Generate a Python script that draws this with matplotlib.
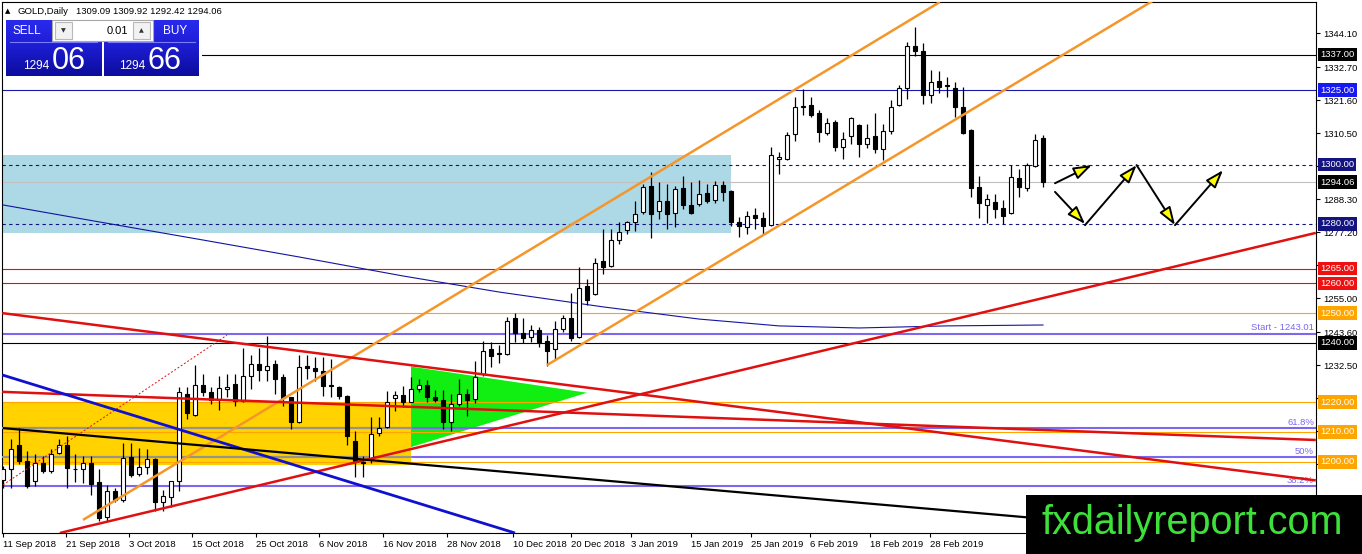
import numpy as np
import matplotlib
matplotlib.use('Agg')
import matplotlib.pyplot as plt
from matplotlib.patches import Rectangle, Polygon
from matplotlib.colors import LinearSegmentedColormap

plt.rcParams['font.family'] = ['Liberation Sans', 'DejaVu Sans']

# GOLD daily bars, bar 0 = 11 Sep 2018, last bar = 1 Mar 2019
opens = [1194.0, 1197.4, 1205.6, 1200.2, 1193.4, 1199.6, 1196.8, 1202.8, 1205.5, 1197.7,
         1197.6, 1199.6, 1193.1, 1181.3, 1190.3, 1187.0, 1201.6, 1195.7, 1198.3, 1201.0,
         1186.3, 1188.1, 1193.4, 1222.8, 1215.7, 1225.9, 1223.6, 1220.9, 1224.3, 1226.2,
         1220.4, 1228.7, 1232.9, 1230.7, 1232.9, 1228.5, 1221.7, 1213.2, 1232.3, 1231.6,
         1230.5, 1225.9, 1225.3, 1222.0, 1206.8, 1199.9, 1200.5, 1209.5, 1211.8, 1221.3,
         1222.6, 1220.2, 1224.5, 1225.7, 1221.9, 1220.9, 1213.4, 1219.4, 1222.8, 1221.1,
         1229.6, 1237.9, 1236.4, 1236.3, 1248.5, 1243.2, 1242.0, 1244.3, 1240.6, 1237.9,
         1244.6, 1248.5, 1242.0, 1259.0, 1256.4, 1267.5, 1265.8, 1274.5, 1277.9, 1280.5,
         1283.9, 1292.9, 1284.4, 1287.6, 1283.6, 1292.1, 1286.3, 1286.7, 1290.4, 1288.0,
         1293.2, 1291.2, 1280.8, 1279.0, 1283.1, 1281.9, 1279.6, 1301.9, 1301.9, 1310.4,
         1319.4, 1320.0, 1317.2, 1310.7, 1314.3, 1305.9, 1309.5, 1313.4, 1307.0, 1309.5,
         1305.3, 1311.2, 1320.0, 1325.6, 1340.0, 1338.3, 1323.4, 1328.1, 1326.8, 1325.6,
         1319.2, 1311.7, 1292.5, 1286.4, 1287.4, 1285.3, 1283.8, 1295.5, 1292.1, 1299.6,
         1309.09]
highs = [1198.5, 1207.5, 1211.2, 1203.6, 1202.5, 1201.9, 1204.2, 1207.5, 1208.7, 1202.5,
         1201.9, 1201.9, 1197.4, 1192.3, 1191.2, 1206.4, 1206.4, 1204.7, 1204.2, 1201.3,
         1190.6, 1193.4, 1225.1, 1225.1, 1232.4, 1229.6, 1225.1, 1229.0, 1229.6, 1229.6,
         1238.3, 1235.8, 1238.1, 1242.4, 1234.1, 1229.6, 1221.7, 1235.8, 1235.8, 1235.2,
         1235.2, 1234.7, 1225.6, 1222.5, 1210.4, 1201.9, 1215.1, 1215.1, 1223.9, 1223.9,
         1225.6, 1228.5, 1227.9, 1227.4, 1224.0, 1224.0, 1222.8, 1227.9, 1224.5, 1233.8,
         1240.6, 1240.3, 1239.2, 1248.8, 1249.9, 1248.2, 1246.0, 1245.4, 1242.6, 1247.3,
         1249.2, 1256.7, 1265.4, 1261.6, 1268.6, 1278.2, 1278.2, 1280.5, 1281.0, 1287.8,
         1293.4, 1297.4, 1294.0, 1293.4, 1292.9, 1296.3, 1294.0, 1294.8, 1293.4, 1294.6,
         1294.4, 1291.4, 1282.4, 1284.2, 1285.3, 1283.9, 1305.9, 1304.2, 1311.0, 1322.6,
         1325.3, 1322.6, 1318.5, 1315.7, 1315.1, 1311.0, 1316.0, 1313.8, 1313.8, 1317.2,
         1313.5, 1321.7, 1326.8, 1341.1, 1346.3, 1340.9, 1331.9, 1331.6, 1329.4, 1327.9,
         1326.2, 1312.1, 1296.2, 1290.0, 1290.0, 1288.0, 1300.0, 1298.5, 1300.4, 1310.4,
         1309.92]
lows = [1191.2, 1191.2, 1199.1, 1191.2, 1191.7, 1196.3, 1196.3, 1202.5, 1191.2, 1193.1,
        1192.9, 1188.9, 1179.9, 1179.9, 1186.6, 1186.6, 1194.9, 1195.3, 1195.7, 1183.3,
        1183.3, 1184.6, 1190.0, 1214.3, 1215.5, 1222.2, 1219.4, 1217.5, 1221.7, 1218.9,
        1220.0, 1224.5, 1227.3, 1227.3, 1222.8, 1218.9, 1210.9, 1213.0, 1227.9, 1227.3,
        1222.2, 1221.7, 1221.1, 1205.5, 1194.9, 1194.9, 1199.6, 1208.7, 1211.2, 1217.2,
        1218.3, 1220.0, 1223.4, 1220.0, 1220.2, 1211.0, 1210.4, 1218.9, 1215.5, 1219.8,
        1229.0, 1231.9, 1233.3, 1236.0, 1240.3, 1239.8, 1240.3, 1238.6, 1232.2, 1234.7,
        1243.7, 1240.6, 1241.5, 1252.8, 1256.0, 1263.0, 1265.4, 1273.1, 1276.5, 1277.6,
        1283.3, 1275.4, 1281.6, 1278.2, 1279.0, 1285.0, 1283.3, 1286.1, 1286.9, 1287.2,
        1287.6, 1279.3, 1275.6, 1276.5, 1278.2, 1276.5, 1279.3, 1296.8, 1301.6, 1307.9,
        1316.6, 1316.0, 1307.6, 1309.8, 1304.7, 1301.9, 1307.0, 1302.5, 1305.6, 1303.8,
        1301.6, 1310.4, 1319.6, 1321.9, 1336.4, 1320.3, 1320.6, 1324.2, 1322.6, 1316.0,
        1310.2, 1289.1, 1282.1, 1280.4, 1282.1, 1280.1, 1283.5, 1289.1, 1291.0, 1299.1,
        1292.42]
closes = [1197.4, 1204.4, 1200.2, 1191.7, 1199.6, 1196.8, 1202.5, 1205.5, 1197.9, 1197.4,
          1199.4, 1192.5, 1181.0, 1190.0, 1187.2, 1201.3, 1195.5, 1198.3, 1201.0, 1186.3,
          1188.3, 1193.4, 1223.6, 1216.4, 1225.9, 1223.4, 1220.9, 1224.7, 1225.0, 1220.5,
          1228.8, 1232.9, 1230.7, 1232.2, 1227.9, 1221.3, 1213.2, 1231.8, 1231.5, 1230.4,
          1225.6, 1225.4, 1222.0, 1208.7, 1200.2, 1199.6, 1209.2, 1211.5, 1220.2, 1222.5,
          1220.0, 1224.5, 1225.9, 1221.7, 1220.9, 1213.4, 1219.4, 1222.8, 1220.6, 1228.5,
          1237.2, 1235.6, 1236.2, 1247.3, 1243.2, 1241.7, 1244.3, 1240.3, 1237.2, 1244.6,
          1248.5, 1241.7, 1258.6, 1254.5, 1266.9, 1265.5, 1274.5, 1277.3, 1280.5, 1283.3,
          1292.5, 1283.5, 1287.8, 1283.5, 1291.8, 1286.3, 1283.6, 1290.1, 1287.8, 1293.2,
          1290.6, 1280.8, 1279.3, 1282.7, 1281.9, 1279.3, 1303.3, 1302.5, 1309.8, 1319.4,
          1319.8, 1316.8, 1311.0, 1314.1, 1305.9, 1308.7, 1315.5, 1307.0, 1309.0, 1305.3,
          1311.2, 1319.4, 1325.6, 1340.0, 1338.1, 1323.4, 1327.8, 1326.0, 1326.5, 1319.2,
          1310.6, 1292.0, 1286.9, 1288.3, 1285.0, 1282.7, 1295.9, 1292.3, 1300.0, 1308.3,
          1294.06]

date_labels = ['11 Sep 2018', '21 Sep 2018', '3 Oct 2018', '15 Oct 2018', '25 Oct 2018',
               '6 Nov 2018', '16 Nov 2018', '28 Nov 2018', '10 Dec 2018', '20 Dec 2018',
               '3 Jan 2019', '15 Jan 2019', '25 Jan 2019', '6 Feb 2019', '18 Feb 2019',
               '28 Feb 2019']
date_label_bars = [0, 7.9, 15.75, 23.6, 31.6, 39.5, 47.5, 55.5, 63.75, 71, 78.5, 86,
                   93.5, 100.9, 108.4, 115.9]
price_ticks = [1344.10, 1332.70, 1321.60, 1310.50, 1299.40, 1288.30, 1277.20, 1266.10,
               1255.00, 1243.60, 1232.50, 1221.40, 1210.30, 1199.20, 1188.10, 1177.00]
# ticks whose labels sit under a price tag or the watermark
hidden_ticks = [1299.40, 1266.10, 1221.40, 1210.30, 1199.20, 1188.10, 1177.00]

# horizontal levels drawn on the chart
level_prices = [1337.00, 1325.00, 1300.00, 1294.06, 1280.00, 1265.00, 1260.00, 1250.00,
                1240.00, 1220.00, 1210.00, 1200.00]
fib_start = 1243.01
fib_prices = [1211.4, 1201.6, 1191.8]
fib_labels = ['61.8%', '50%', '38.2%']

# moving average
ma_bars = [0, 12, 25, 37, 50, 62, 75, 87, 97, 107, 118, 130]
ma_values = [1286.4, 1280.7, 1274.6, 1268.9, 1262.5, 1257.1, 1252.1, 1248.0, 1245.7,
             1245.0, 1245.7, 1246.0]

# drawn objects: (bar, price) end points
channel_upper = [(10.0, 1180.4), (117.1, 1354.7)]
channel_lower = [(68.0, 1232.5), (164.1, 1388.1)]
red_dotted = [(0.0, 1192.2), (28.0, 1242.6)]
red_down_a = [(-0.1, 1250.0), (164.1, 1193.7)]
red_down_b = [(-0.1, 1223.5), (164.1, 1207.3)]
red_up = [(7.1, 1176.0), (164.1, 1277.0)]
blue_down = [(-0.1, 1229.2), (64.0, 1176.0)]
black_down = [(0.0, 1211.3), (164.1, 1172.8)]
blue_zone = (-0.2, 91.0, 1277.0, 1303.2)
gold_zone = (-0.2, 51.0, 1198.9, 1220.2)
green_tri = [(51.0, 1232.0), (73.0, 1223.2), (51.0, 1204.9)]
arrows = [((131.5, 1293.7), (136.1, 1299.8)),
          ((131.5, 1290.8), (135.25, 1280.0)),
          ((135.25, 1279.6), (141.7, 1299.8)),
          ((141.7, 1299.8), (146.5, 1279.6)),
          ((146.5, 1279.6), (152.5, 1298.1))]

W, H = 1362, 554
fig = plt.figure(figsize=(W / 100, H / 100), dpi=100)
fig.patch.set_facecolor('white')
ax = fig.add_axes([2 / W, 1 - 533 / H, 1314 / W, 531 / H])
ax.set_xlim(-0.125, 164.125)
ax.set_ylim(1176.0, 1354.7)
for s in ax.spines.values():
    s.set_linewidth(0.8)
    s.set_color('black')

# zones
x0, x1, y0, y1 = blue_zone
ax.add_patch(Rectangle((x0, y0), x1 - x0, y1 - y0, fc='#add8e6', ec='none', zorder=1))
x0, x1, y0, y1 = gold_zone
ax.add_patch(Rectangle((x0, y0), x1 - x0, y1 - y0, fc='#ffd200', ec='none', zorder=1))
ax.add_patch(Polygon(green_tri, closed=True, fc='#11ee11', ec='none', zorder=1))

# horizontal levels
lvl_style = {1337.00: ('black', '-'), 1325.00: ('#1a1aa8', '-'), 1300.00: ('#101080', (0, (3, 3))),
             1294.06: ('#c0c0c0', '-'), 1280.00: ('#101080', (0, (3, 3))), 1265.00: ('#e01010', '-'),
             1260.00: ('#e01010', '-'), 1250.00: ('#ffa500', '-'), 1240.00: ('black', '-'),
             1220.00: ('#ffa500', '-'), 1210.00: ('#ffa500', '-'), 1200.00: ('#ffa500', '-')}
for p in level_prices:
    col, ls = lvl_style[p]
    ax.axhline(p, color=col, ls=ls, lw=0.8, zorder=2)

purple = '#7b68ee'
for p in [fib_start] + fib_prices:
    ax.axhline(p, color=purple, lw=1.5, zorder=2.5)
for p in fib_prices[:2]:
    ax.plot([gold_zone[0], gold_zone[1]], [p, p], color='#9a9488', lw=1.5, zorder=2.6)
for p, t in zip(fib_prices, fib_labels):
    ax.text(1 - 2 / 1314, p + 0.3, t, transform=ax.get_yaxis_transform(), ha='right',
            va='bottom', fontsize=6.8, color=purple, zorder=3)
ax.text(1 - 2 / 1314, fib_start + 0.6, 'Start - %.2f' % fib_start,
        transform=ax.get_yaxis_transform(), ha='right', va='bottom', fontsize=6.8,
        color=purple, zorder=3)

# moving average
ax.plot(ma_bars, ma_values, color='#1414a0', lw=0.8, zorder=3)

# candles
o = np.array(opens); h = np.array(highs); l = np.array(lows); c = np.array(closes)
idx = np.arange(len(o))
bull = c >= o
ax.vlines(idx, l, h, color='black', lw=0.9, zorder=4)
bot = np.minimum(o, c)
hgt = np.maximum(np.abs(c - o), 0.3)
ax.bar(idx[bull], hgt[bull], 0.62, bot[bull], color='white', edgecolor='black', linewidth=0.8, zorder=5)
ax.bar(idx[~bull], hgt[~bull], 0.62, bot[~bull], color='black', edgecolor='black', linewidth=0.8, zorder=5)

# trend lines
def tline(pts, **kw):
    ax.plot([pts[0][0], pts[1][0]], [pts[0][1], pts[1][1]], solid_capstyle='butt', **kw)

tline(channel_upper, color='#f5962a', lw=1.8, zorder=6)
tline(channel_lower, color='#f5962a', lw=1.8, zorder=6)
tline(red_dotted, color='#e01010', lw=0.7, ls=(0, (2, 2)), zorder=6)
tline(red_down_a, color='#e01010', lw=1.8, zorder=6)
tline(red_down_b, color='#e01010', lw=1.8, zorder=6)
tline(red_up, color='#e01010', lw=1.8, zorder=6)
tline(blue_down, color='#1010d0', lw=2.0, zorder=6)
tline(black_down, color='black', lw=1.6, zorder=6)

for start, end in arrows:
    ax.annotate('', xy=end, xytext=start, zorder=7,
                arrowprops=dict(arrowstyle='-|>,head_length=1.1,head_width=0.38',
                                fc='#ffff00', ec='black', lw=1.4, shrinkA=0, shrinkB=0))

# axes ticks
ax.yaxis.tick_right()
ax.set_yticks(price_ticks)
ax.set_yticklabels(['' if v in hidden_ticks else '%.2f' % v for v in price_ticks])
ax.set_xticks(date_label_bars)
ax.set_xticklabels(date_labels)
for lbl in ax.get_xticklabels():
    lbl.set_ha('left')
ax.tick_params(axis='y', length=3, width=0.8, pad=2, labelsize=6.8)
ax.tick_params(axis='x', length=3, width=0.8, pad=2, labelsize=6.8)

# price tags on the right
tag_bg = {1337.00: 'black', 1325.00: '#1818f0', 1300.00: '#141480', 1294.06: 'black',
          1280.00: '#141480', 1265.00: '#ee1111', 1260.00: '#ee1111', 1250.00: '#ffa500',
          1240.00: 'black', 1220.00: '#ffa500', 1210.00: '#ffa500', 1200.00: '#ffa500'}
for p in level_prices:
    ax.text(1 + 4 / 1314, p, '%.2f' % p, transform=ax.get_yaxis_transform(), ha='left',
            va='center', fontsize=6.8, color='white', clip_on=False, zorder=20,
            bbox=dict(boxstyle='square,pad=0.25', fc=tag_bg[p], ec='none'))

# figure-pixel helpers for the overlays
def frect(x0, y0, x1, y1, **kw):
    r = Rectangle((x0 / W, 1 - y1 / H), (x1 - x0) / W, (y1 - y0) / H,
                  transform=fig.transFigure, **kw)
    fig.add_artist(r)

def ftext(x, y, s, **kw):
    fig.text(x / W, 1 - y / H, s, **kw)

# header text
ftext(5, 11, '\u25b2', fontsize=5, va='center', color='black', family=['DejaVu Sans'])
ftext(18, 11, 'GOLD,Daily', fontsize=6.8, va='center', color='black')
ftext(76, 11, '1309.09 1309.92 1292.42 1294.06', fontsize=6.8, va='center', color='black')

# one-click trading panel
frect(3, 18, 202, 79, fc='white', ec='none', zorder=1)
grad = LinearSegmentedColormap.from_list('pnl', ['#2a2aee', '#1c1cd0', '#0c0c9c'])
for px0, px1 in [(6, 101), (104, 199)]:
    pax = fig.add_axes([px0 / W, 1 - 76 / H, (px1 - px0) / W, 56 / H])
    pax.imshow(np.linspace(0, 1, 64).reshape(-1, 1), cmap=grad, aspect='auto')
    pax.axis('off')
    pax.set_zorder(2)
    fig.add_artist(matplotlib.lines.Line2D([(px0 + 4) / W, (px1 - 4) / W],
                                           [1 - 42 / H, 1 - 42 / H], color='#7a7aff',
                                           lw=0.8, zorder=3))
frect(52, 20, 153, 41, fc='white', ec='#a8a8a8', lw=0.8, zorder=3)
frect(55, 22, 72, 39, fc='#f2f2f2', ec='#b8b8b8', lw=0.8, zorder=3)
frect(133, 22, 150, 39, fc='#f2f2f2', ec='#b8b8b8', lw=0.8, zorder=3)
ftext(63.5, 31, '\u25bc', fontsize=4.5, ha='center', va='center', color='#333333',
      family=['DejaVu Sans'], zorder=4)
ftext(141.5, 31, '\u25b2', fontsize=4.5, ha='center', va='center', color='#333333',
      family=['DejaVu Sans'], zorder=4)
ftext(128, 31, '0.01', fontsize=8, ha='right', va='center', color='black', zorder=4)
ftext(27, 31, 'SELL', fontsize=8.5, ha='center', va='center', color='white', zorder=4)
ftext(175, 31, 'BUY', fontsize=8.5, ha='center', va='center', color='white', zorder=4)
ftext(23, 69, '1294', fontsize=8.5, ha='left', va='baseline', color='white', zorder=4)
ftext(52, 69, '06', fontsize=22, ha='left', va='baseline', color='white', zorder=4)
ftext(119, 69, '1294', fontsize=8.5, ha='left', va='baseline', color='white', zorder=4)
ftext(147.5, 69, '66', fontsize=22, ha='left', va='baseline', color='white', zorder=4)

# watermark
frect(1026, 495, 1362, 554, fc='black', ec='none', zorder=5)
ftext(1041, 534, 'fxdailyreport.com', fontsize=28.5, ha='left', va='baseline',
      color='#3ee03a', zorder=6)

fig.savefig('out.png', dpi=100)
